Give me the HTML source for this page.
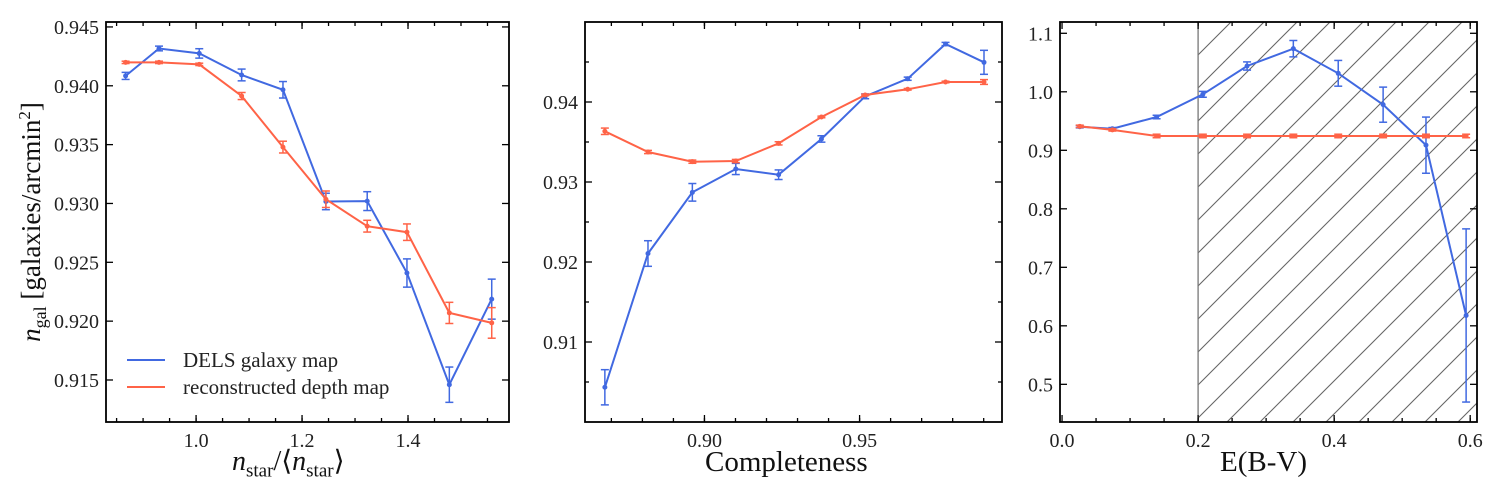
<!DOCTYPE html>
<html><head><meta charset="utf-8">
<style>
html,body{margin:0;padding:0;background:#fff;}
svg{display:block;font-family:"Liberation Serif",serif;}
</style></head>
<body>
<svg id="fig" width="1500" height="500" viewBox="0 0 1500 500" xmlns="http://www.w3.org/2000/svg">
<defs>
<pattern id="hatch" patternUnits="userSpaceOnUse" x="1198" y="22" width="33" height="33">
<path d="M-3,36 L36,-3 M-3,3 L3,-3 M30,36 L36,30" stroke="#666" stroke-width="1.1"/>
</pattern>
</defs>
</svg>
<script>
// Panel 1 data
const p1X = [0.867, 0.930, 1.006, 1.086, 1.164, 1.245, 1.323, 1.398, 1.478, 1.558];
const p1Blue = [0.94084, 0.94317, 0.94275, 0.94092, 0.93966, 0.93017, 0.93020, 0.92409, 0.9146, 0.92187];
const p1BlueErr = [0.0003, 0.0002, 0.0004, 0.0005, 0.0007, 0.0007, 0.0008, 0.0012, 0.0015, 0.0017];
const p1Red = [0.94199, 0.94199, 0.94182, 0.93913, 0.93479, 0.93036, 0.92807, 0.92756, 0.9207, 0.91985];
const p1RedErr = [0.0001, 0.0001, 0.0001, 0.0003, 0.0005, 0.0007, 0.0005, 0.0007, 0.0009, 0.0013];
const p1XTicks = [1.0, 1.2, 1.4];
const p1YTicks = [0.915, 0.920, 0.925, 0.930, 0.935, 0.940, 0.945];
// Panel 2 data
const p2X = [0.8679, 0.8818, 0.8961, 0.9101, 0.9239, 0.9377, 0.9518, 0.9655, 0.9777, 0.9901];
const p2Blue = [0.90434, 0.92106, 0.92871, 0.93163, 0.93091, 0.93538, 0.94071, 0.94291, 0.94725, 0.94496];
const p2BlueErr = [0.0022, 0.0016, 0.0011, 0.0007, 0.0006, 0.0004, 0.0003, 0.0002, 0.0002, 0.0015];
const p2Red = [0.93634, 0.93375, 0.93254, 0.93262, 0.93483, 0.93813, 0.94088, 0.94159, 0.9425, 0.9425];
const p2RedErr = [0.0004, 0.0002, 0.0002, 0.0002, 0.0002, 0.0001, 0.0001, 0.0001, 0.0001, 0.0003];
const p2XTicks = [0.90, 0.95];
const p2YTicks = [0.91, 0.92, 0.93, 0.94];
// Panel 3 data
const p3X = [0.026, 0.074, 0.139, 0.207, 0.272, 0.340, 0.406, 0.472, 0.535, 0.594];
const p3Blue = [0.9403, 0.9369, 0.9569, 0.9957, 1.0441, 1.0737, 1.0316, 0.978, 0.9088, 0.6177];
const p3BlueErr = [0.002, 0.002, 0.003, 0.005, 0.007, 0.014, 0.022, 0.03, 0.048, 0.148];
const p3Red = [0.941, 0.9349, 0.9245, 0.9245, 0.9245, 0.9245, 0.9245, 0.9245, 0.9245, 0.9245];
const p3RedErr = [0.002, 0.002, 0.003, 0.003, 0.003, 0.003, 0.003, 0.003, 0.003, 0.003];
const p3XTicks = [0.0, 0.2, 0.4, 0.6];
const p3YTicks = [0.5, 0.6, 0.7, 0.8, 0.9, 1.0, 1.1];
const p3Cut = 0.2;

const NS = "http://www.w3.org/2000/svg";
const svg = document.getElementById('fig');
const BLUE = "#4169E1", RED = "#FF6347";
function mk(tag, attrs, parent) {
  const e = document.createElementNS(NS, tag);
  for (const k in attrs) e.setAttribute(k, attrs[k]);
  (parent || svg).appendChild(e);
  return e;
}
function scale(d0, d1, r0, r1) { return v => r0 + (v - d0) / (d1 - d0) * (r1 - r0); }
function range(a, b, s) { const r = []; for (let v = a; v <= b + 1e-9; v += s) r.push(+v.toFixed(6)); return r; }

function panel(o) {
  const g = mk('g', {});
  
  
  const sx = scale(o.xd[0], o.xd[1], o.L, o.R);
  const sy = scale(o.yd[0], o.yd[1], o.B, o.T);
  if (o.hatch !== undefined) {
    const hx = sx(o.hatch);
    const h = mk('rect', {x: hx, y: o.T, width: o.R - hx, height: o.B - o.T, fill: 'url(#hatch)'}, g);
    
    
    mk('line', {x1: hx, x2: hx, y1: o.T, y2: o.B, stroke: '#777', 'stroke-width': 1.3}, g);
  }
  const tg = mk('g', {stroke: '#000', 'stroke-width': 1.3}, g);
  o.xMinor.forEach(v => { const x = sx(v); if (x < o.L || x > o.R) return;
    mk('line', {x1: x, x2: x, y1: o.B, y2: o.B - 4}, tg); mk('line', {x1: x, x2: x, y1: o.T, y2: o.T + 4}, tg); });
  o.xTicks.forEach(v => { const x = sx(v);
    mk('line', {x1: x, x2: x, y1: o.B, y2: o.B - 7}, tg); mk('line', {x1: x, x2: x, y1: o.T, y2: o.T + 7}, tg);
    const t = mk('text', {x: x, y: o.B + 25, 'text-anchor': 'middle', 'font-size': 20, fill: '#222'}, g);
    t.textContent = v.toFixed(o.xDec);
    
     });
  (o.yMinor || []).forEach(v => { const y = sy(v); if (y < o.T || y > o.B) return;
    mk('line', {x1: o.L, x2: o.L + 4, y1: y, y2: y}, tg); mk('line', {x1: o.R, x2: o.R - 4, y1: y, y2: y}, tg); });
  o.yTicks.forEach(v => { const y = sy(v);
    mk('line', {x1: o.L, x2: o.L + 7, y1: y, y2: y}, tg); mk('line', {x1: o.R, x2: o.R - 7, y1: y, y2: y}, tg);
    const t = mk('text', {x: o.L - 7, y: y + 7, 'text-anchor': 'end', 'font-size': 20, fill: '#222'}, g);
    t.textContent = v.toFixed(o.yDec);
    
     });
  [[o.blue, o.blueErr, BLUE, 'dels-series'], [o.red, o.redErr, RED, 'depth-series']].forEach(([ys, es, c, nm]) => {
    const sg = mk('g', {}, g);
    
    
    const pts = o.x.map((xv, i) => sx(xv).toFixed(1) + ',' + sy(ys[i]).toFixed(1)).join(' ');
    mk('polyline', {points: pts, fill: 'none', stroke: c, 'stroke-width': 2}, sg);
    o.x.forEach((xv, i) => {
      const x = sx(xv), y1 = sy(ys[i] - es[i]), y2 = sy(ys[i] + es[i]);
      mk('line', {x1: x, x2: x, y1: y1, y2: y2, stroke: c, 'stroke-width': 1.5}, sg);
      mk('line', {x1: x - 4, x2: x + 4, y1: y1, y2: y1, stroke: c, 'stroke-width': 1.5}, sg);
      mk('line', {x1: x - 4, x2: x + 4, y1: y2, y2: y2, stroke: c, 'stroke-width': 1.5}, sg);
      const p = mk('circle', {cx: x, cy: sy(ys[i]), r: 2.5, fill: c}, sg);
      
      
    });
  });
  const fr = mk('rect', {x: o.L, y: o.T, width: o.R - o.L, height: o.B - o.T, fill: 'none', stroke: '#000', 'stroke-width': 1.8}, g);
  
  
  return g;
}

panel({name: 'panel-star-density', L: 106, R: 509, T: 22, B: 422, xd: [0.830, 1.5906], yd: [0.91143, 0.94542],
  x: p1X, blue: p1Blue, blueErr: p1BlueErr, red: p1Red, redErr: p1RedErr,
  xTicks: p1XTicks, xMinor: range(0.85, 1.6, 0.05), yTicks: p1YTicks, xDec: 1, yDec: 3});
panel({name: 'panel-completeness', L: 585, R: 1002, T: 22, B: 422, xd: [0.8615, 0.9959], yd: [0.90, 0.95],
  x: p2X, blue: p2Blue, blueErr: p2BlueErr, red: p2Red, redErr: p2RedErr,
  xTicks: p2XTicks, xMinor: range(0.87, 0.99, 0.01), yTicks: p2YTicks, yMinor: range(0.905, 0.945, 0.01), xDec: 2, yDec: 2});
panel({name: 'panel-extinction', L: 1060, R: 1477, T: 22, B: 422, xd: [-0.003, 0.610], yd: [0.4356, 1.1193],
  x: p3X, blue: p3Blue, blueErr: p3BlueErr, red: p3Red, redErr: p3RedErr, hatch: p3Cut,
  xTicks: p3XTicks, xMinor: range(0.05, 0.6, 0.05), yTicks: p3YTicks, xDec: 1, yDec: 1});

const lg = mk('g', {});


[['DELS galaxy map', BLUE, 360], ['reconstructed depth map', RED, 387]].forEach(([lab, c, y]) => {
  const e = mk('g', {}, lg);
  
  
  mk('line', {x1: 127, x2: 165, y1: y, y2: y, stroke: c, 'stroke-width': 2}, e);
  const t = mk('text', {x: 183, y: y + 7, 'font-size': 21, fill: '#222'}, e);
  t.textContent = lab;
});
</script>
<div style="position:absolute;left:0;top:0;width:1500px;height:500px;pointer-events:none;font-family:'Liberation Serif',serif;color:#111;">
  <div style="position:absolute;left:232px;top:444px;font-size:28px;font-style:italic;white-space:nowrap;">n<sub style="font-style:normal;font-size:19px;">star</sub><span style="font-style:normal">/⟨</span>n<sub style="font-style:normal;font-size:19px;">star</sub><span style="font-style:normal">⟩</span></div>
  <div style="position:absolute;left:705px;top:446px;font-size:29px;">Completeness</div>
  <div style="position:absolute;left:1220px;top:446px;font-size:29px;">E(B-V)</div>
  <div style="position:absolute;left:33px;top:222px;font-size:27px;white-space:nowrap;transform:translate(-50%,-50%) rotate(-90deg);"><i>n</i><sub style="font-size:18px;">gal</sub> [galaxies/arcmin<sup style="font-size:17px;">2</sup>]</div>
</div>
</body></html>
